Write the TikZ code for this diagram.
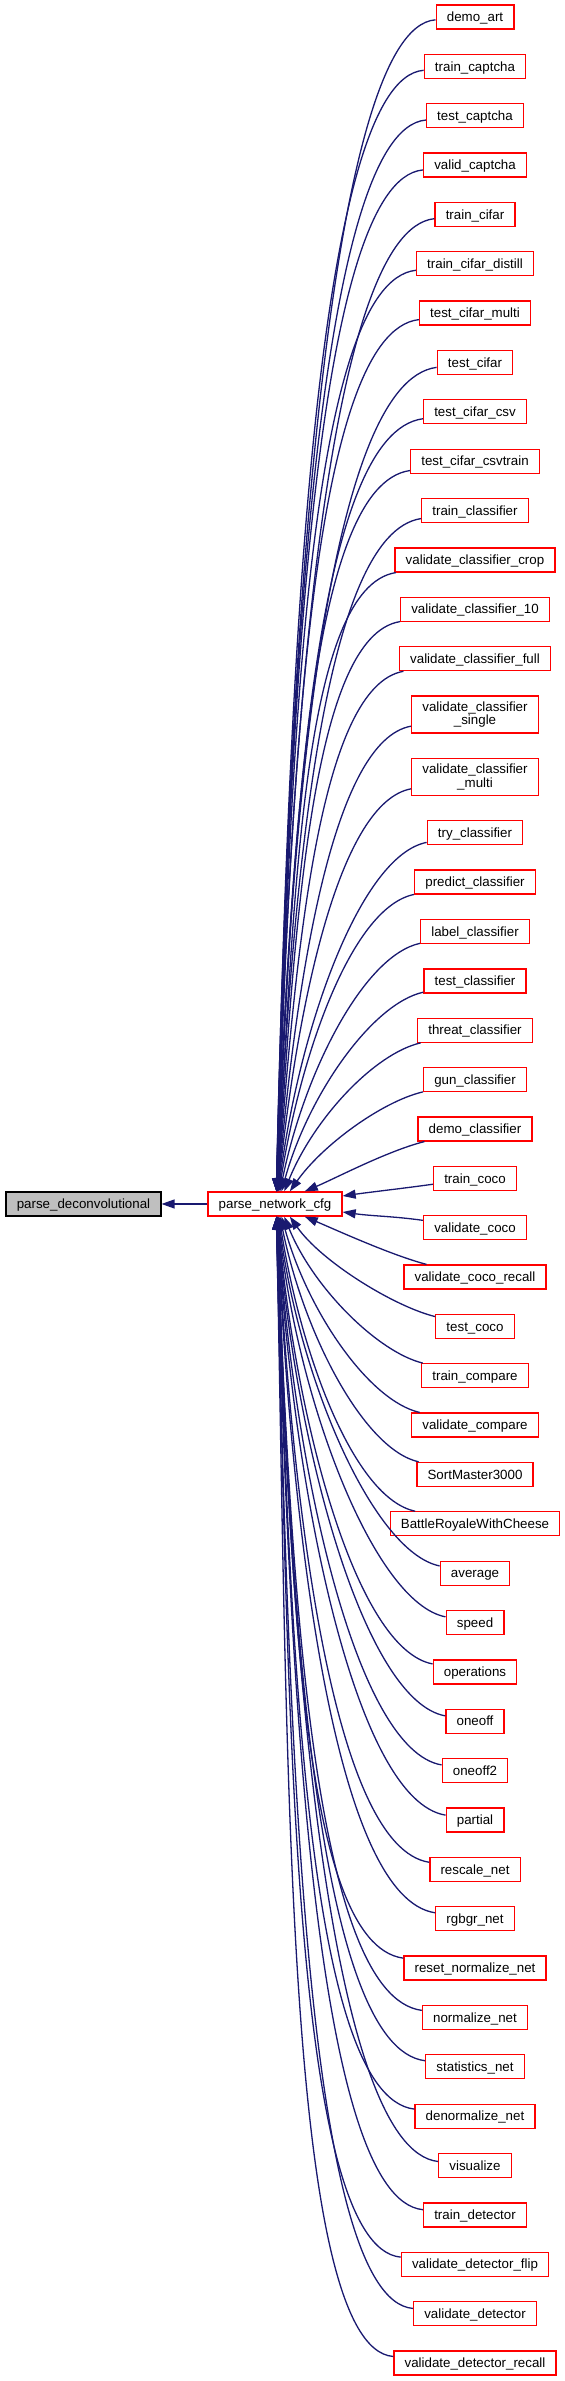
\documentclass[tikz,border=0pt]{standalone}
\usepackage{fontspec}
\setmainfont{Liberation Sans}
\usetikzlibrary{arrows.meta}
\definecolor{edgecol}{HTML}{191970}
\definecolor{grayfill}{HTML}{BFBFBF}
\begin{document}
\begin{tikzpicture}[x=0.1pt,y=0.1pt,
  box/.style={draw=red, line width=0.13pt, fill=white, inner xsep=1.07pt, inner ysep=0pt,
    minimum height=2.4pt, font=\fontsize{1.333pt}{1.333pt}\selectfont,
    text height=1.23pt, text depth=0.29pt},
  twobox/.style={draw=red, line width=0.13pt, fill=white, inner xsep=1.07pt, inner ysep=0pt,
    minimum height=3.7pt, font=\fontsize{1.333pt}{1.333pt}\selectfont, align=center},
  mainbox/.style={box, draw=black, fill=grayfill},
  edge/.style={draw=edgecol, line width=0.13pt, -{Triangle[length=1.3pt,width=0.9pt]}}]
\path[fill=white] (0,0) rectangle (565,-2381);
\useasboundingbox (0,0) rectangle (565,-2381);

\node[mainbox] (pd) at (83.5,-1204) {parse\_deconvolutional};
\node[box] (pnc) at (275,-1204) {parse\_network\_cfg};

\node[box] (r0) at (475,-17) {demo\_art};
\node[box] (r1) at (475,-66.36) {train\_captcha};
\node[box] (r2) at (475,-115.72) {test\_captcha};
\node[box] (r3) at (475,-165.08) {valid\_captcha};
\node[box] (r4) at (475,-214.44) {train\_cifar};
\node[box] (r5) at (475,-263.8) {train\_cifar\_distill};
\node[box] (r6) at (475,-313.16) {test\_cifar\_multi};
\node[box] (r7) at (475,-362.52) {test\_cifar};
\node[box] (r8) at (475,-411.88) {test\_cifar\_csv};
\node[box] (r9) at (475,-461.24) {test\_cifar\_csvtrain};
\node[box] (r10) at (475,-510.6) {train\_classifier};
\node[box] (r11) at (475,-559.96) {validate\_classifier\_crop};
\node[box] (r12) at (475,-609.32) {validate\_classifier\_10};
\node[box] (r13) at (475,-658.68) {validate\_classifier\_full};
\node[twobox] (r14) at (475,-714.6) {validate\_classifier\\\_single};
\node[twobox] (r15) at (475,-777) {validate\_classifier\\\_multi};
\node[box] (r16) at (475,-832.8) {try\_classifier};
\node[box] (r17) at (475,-882.16) {predict\_classifier};
\node[box] (r18) at (475,-931.52) {label\_classifier};
\node[box] (r19) at (475,-980.88) {test\_classifier};
\node[box] (r20) at (475,-1030.24) {threat\_classifier};
\node[box] (r21) at (475,-1079.6) {gun\_classifier};
\node[box] (r22) at (475,-1128.96) {demo\_classifier};
\node[box] (r23) at (475,-1178.32) {train\_coco};
\node[box] (r24) at (475,-1227.68) {validate\_coco};
\node[box] (r25) at (475,-1277.04) {validate\_coco\_recall};
\node[box] (r26) at (475,-1326.4) {test\_coco};
\node[box] (r27) at (475,-1375.76) {train\_compare};
\node[box] (r28) at (475,-1425.12) {validate\_compare};
\node[box] (r29) at (475,-1474.48) {SortMaster3000};
\node[box] (r30) at (475,-1523.84) {BattleRoyaleWithCheese};
\node[box] (r31) at (475,-1573.2) {average};
\node[box] (r32) at (475,-1622.56) {speed};
\node[box] (r33) at (475,-1671.92) {operations};
\node[box] (r34) at (475,-1721.28) {oneoff};
\node[box] (r35) at (475,-1770.64) {oneoff2};
\node[box] (r36) at (475,-1820) {partial};
\node[box] (r37) at (475,-1869.36) {rescale\_net};
\node[box] (r38) at (475,-1918.72) {rgbgr\_net};
\node[box] (r39) at (475,-1968.08) {reset\_normalize\_net};
\node[box] (r40) at (475,-2017.44) {normalize\_net};
\node[box] (r41) at (475,-2066.8) {statistics\_net};
\node[box] (r42) at (475,-2116.16) {denormalize\_net};
\node[box] (r43) at (475,-2165.52) {visualize};
\node[box] (r44) at (475,-2214.88) {train\_detector};
\node[box] (r45) at (475,-2264.24) {validate\_detector\_flip};
\node[box] (r46) at (475,-2313.6) {validate\_detector};
\node[box] (r47) at (475,-2362.96) {validate\_detector\_recall};

\draw[edge] (pnc) -- (pd);
\draw[edge] (r23) to[out=188, in=8, out distance=3pt, in distance=3pt] ([yshift=0.8pt]pnc.east);
\draw[edge] (r24) to[out=172, in=-8, out distance=3pt, in distance=3pt] ([yshift=-0.8pt]pnc.east);

\foreach \i/\y in {0/17,1/66.36,2/115.72,3/165.08,4/214.44,5/263.8,6/313.16,7/362.52,8/411.88,
  9/461.24,10/510.6,11/559.96,12/609.32,13/658.68,14/714.6,15/777,16/832.8,17/882.16,
  18/931.52,19/980.88,20/1030.24,21/1079.6,22/1128.96,
  25/1277.04,26/1326.4,27/1375.76,28/1425.12,29/1474.48,30/1523.84,31/1573.2,32/1622.56,
  33/1671.92,34/1721.28,35/1770.64,36/1820,37/1869.36,38/1918.72,39/1968.08,40/2017.44,
  41/2066.8,42/2116.16,43/2165.52,44/2214.88,45/2264.24,46/2313.6,47/2362.96}{
  \pgfmathsetmacro\dy{abs(\y-1204)}
  \pgfmathtruncatemacro\k{\i<24 ? 24-\i : \i-23}
  \pgfmathsetmacro\aa{0.1*min(110,30+0.1*\dy)}
  \pgfmathsetmacro\bb{0.045*\dy}
  \pgfmathsetmacro\dd{0.1+10/(\k^1.8)}
  \pgfmathsetmacro\ph{min(89,90-67*(2/\k)^1.6)}
  \pgfmathsetmacro\th{195-0.45*\k}
  \pgfmathsetmacro\thb{360-\th}
  \pgfmathsetmacro\phb{-\ph}
  \ifnum\i<24
    \draw[edge] (r\i) to[out=\th, in=\ph, out distance=\aa pt, in distance=\bb pt] ([xshift=\dd pt]pnc.north);
  \else
    \draw[edge] (r\i) to[out=\thb, in=\phb, out distance=\aa pt, in distance=\bb pt] ([xshift=\dd pt]pnc.south);
  \fi
}
\end{tikzpicture}
\end{document}
